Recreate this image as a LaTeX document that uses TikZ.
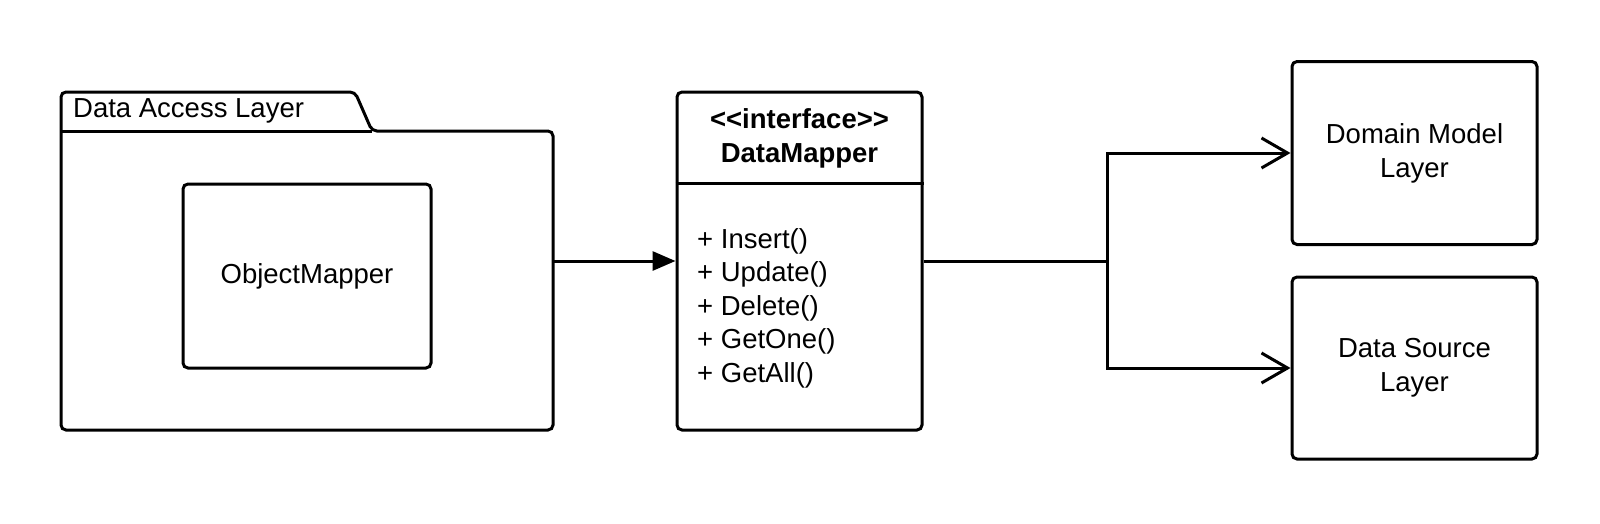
\documentclass[tikz,border=0pt]{standalone}
\usepackage{fontspec}
\setmainfont{Liberation Sans}
\usetikzlibrary{arrows.meta}
\begin{document}
\begin{tikzpicture}[x=1pt,y=-1pt,
  every node/.style={font=\fontsize{27.5}{33.5}\selectfont, inner sep=0pt},
  box/.style={draw, line width=3pt, rounded corners=5pt, minimum width=#1},
  conn/.style={line width=3pt},
  solidhead/.style={-{Triangle[length=23pt,width=19pt]}},
  openhead/.style={-{Straight Barb[length=26pt,width=30pt,line width=3pt]}}]
\useasboundingbox (0,0) rectangle (1600,523);
% package
\node[minimum width=492pt, minimum height=299pt] (pkg) at (307,280.5) {};
\draw[conn, rounded corners=5pt] (61,131) -- (61,92) -- (355,92) -- (372,131) -- (553,131) -- (553,430) -- (61,430) -- (61,131) -- (61,120);
\draw[conn] (61,131) -- (372,131);
\node[anchor=west] (pkglabel) at (73,111) {Data Access Layer};
\node[box=248pt, minimum height=184pt] (om) at (307,276) {ObjectMapper};
% interface
\node[box=245pt, minimum height=338pt] (dm) at (799.5,261) {};
\draw[conn] (dm.west |- 0,183) -- (dm.east |- 0,183);
\node[align=center, font=\fontsize{27.5}{34}\selectfont\bfseries] (dmhead) at (799.5,138) {<\kern0pt<interface>\kern0pt>\\DataMapper};
\node[align=left, anchor=west] (dmops) at (697,308) {+ Insert()\\+ Update()\\+ Delete()\\+ GetOne()\\+ GetAll()};
% layers
\node[box=245pt, minimum height=183pt, align=center, font=\fontsize{27.5}{34}\selectfont] (dom) at (1414.5,153) {Domain Model\\Layer};
\node[box=245pt, minimum height=182pt, align=center, font=\fontsize{27.5}{34}\selectfont] (dsl) at (1414.5,368) {Data Source\\Layer};
% connectors
\coordinate (jn) at (1107,261);
\draw[conn, solidhead] (dm.west -| pkg.east) -- (dm.west);
\draw[conn] (dm.east) -- (jn);
\draw[conn, openhead] (jn) |- (dom.west);
\draw[conn, openhead] (jn) |- (dsl.west);
\end{tikzpicture}
\end{document}
